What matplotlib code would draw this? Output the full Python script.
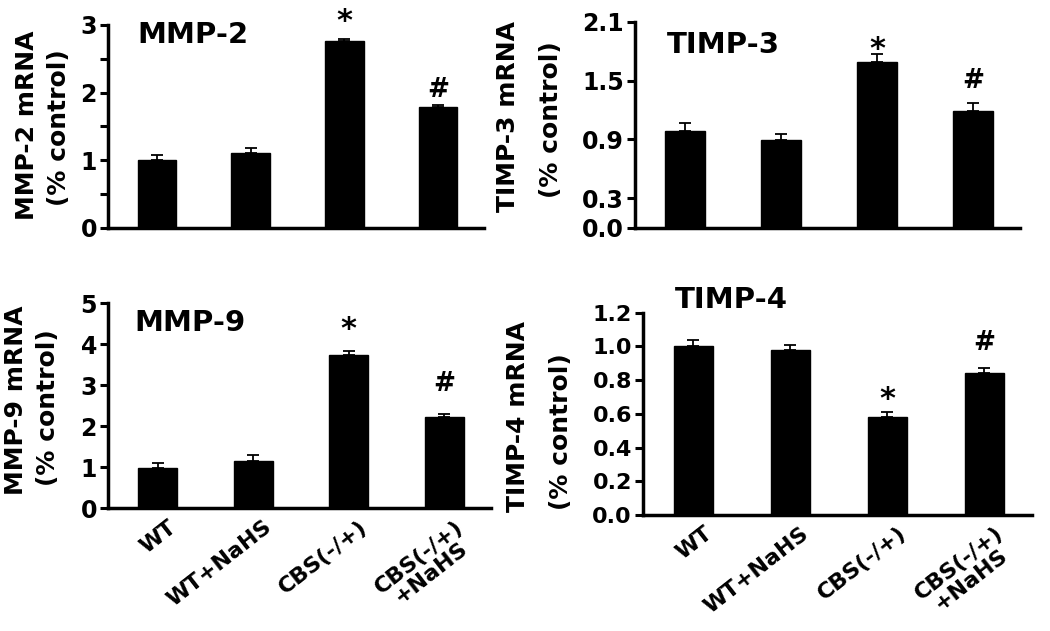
import numpy as np
import matplotlib
matplotlib.use("Agg")
import matplotlib.pyplot as plt
import matplotlib.transforms as mtransforms

plt.rcParams['font.family'] = ['DejaVu Sans']
plt.rcParams['font.weight'] = 'bold'

groups = ['WT', 'WT+NaHS', 'CBS(-/+)', 'CBS(-/+)\n+NaHS']

mmp2 = [1.00, 1.11, 2.76, 1.79]
mmp2_err = [0.08, 0.07, 0.04, 0.03]
timp3 = [0.99, 0.89, 1.69, 1.19]
timp3_err = [0.08, 0.07, 0.08, 0.08]
mmp9 = [0.98, 1.16, 3.74, 2.23]
mmp9_err = [0.13, 0.15, 0.10, 0.06]
timp4 = [1.00, 0.98, 0.58, 0.84]
timp4_err = [0.04, 0.03, 0.03, 0.03]

marks = ['', '', '*', '#']

W, H = 1050, 631
fig = plt.figure(figsize=(W / 100, H / 100), dpi=100)


def px_axes(x0, y0, x1, y1):
    # pixel box (top-left origin) -> figure fraction
    return fig.add_axes([x0 / W, 1 - y1 / H, (x1 - x0) / W, (y1 - y0) / H])


def px_text(x, y, s, **kw):
    fig.text(x / W, 1 - y / H, s, ha='center', va='center', rotation=90,
             fontsize=18, fontweight='bold', **kw)


panels = [
    dict(v=mmp2, e=mmp2_err, box=(108, 25, 484, 228), ylim=3,
         ticks=[0, 1, 2, 3], tl=['0', '1', '2', '3'], minor=[0.5, 1.5, 2.5],
         title='MMP-2', tpos=(0.077, 0.95),
         lab=[(27, 125, 'MMP-2 mRNA'), (59, 128, '(% control)')],
         off={'*': 9, '#': 8}, xl=False, fs=17),
    dict(v=timp3, e=timp3_err, box=(635, 21.7, 1020, 227.7), ylim=2.1,
         ticks=[0, 0.3, 0.9, 1.5, 2.1], tl=['0.0', '0.3', '0.9', '1.5', '2.1'], minor=[],
         title='TIMP-3', tpos=(0.083, 0.887),
         lab=[(508, 117, 'TIMP-3 mRNA'), (551, 120, '(% control)')],
         off={'*': -4, '#': 15}, xl=False, fs=17),
    dict(v=mmp9, e=mmp9_err, box=(108, 303.3, 491, 508.3), ylim=5,
         ticks=[0, 1, 2, 3, 4, 5], tl=['0', '1', '2', '3', '4', '5'], minor=[],
         title='MMP-9', tpos=(0.07, 0.904),
         lab=[(16, 400, 'MMP-9 mRNA'), (48, 408, '(% control)')],
         off={'*': 13, '#': 23}, xl=True, fs=17),
    dict(v=timp4, e=timp4_err, box=(643, 312.7, 1032, 515), ylim=1.2,
         ticks=[0, 0.2, 0.4, 0.6, 0.8, 1.0, 1.2],
         tl=['0.0', '0.2', '0.4', '0.6', '0.8', '1.0', '1.2'], minor=[],
         title='TIMP-4', tpos=(0.082, 1.063),
         lab=[(518, 417, 'TIMP-4 mRNA'), (561, 432, '(% control)')],
         off={'*': 4, '#': 18}, xl=True, fs=16),
]

x = np.arange(len(groups))

for p in panels:
    ax = px_axes(*p['box'])
    ax.bar(x, p['v'], width=0.41, color='black', edgecolor='black', zorder=2)
    lower = np.zeros(len(p['e']))
    ax.errorbar(x, p['v'], yerr=[lower, p['e']], fmt='none', ecolor='black',
                elinewidth=1.3, capsize=4, capthick=1.3, zorder=3)
    ax.set_xlim(-0.52, 3.49)
    ax.set_ylim(0, p['ylim'])
    ax.set_yticks(p['ticks'])
    ax.set_yticklabels(p['tl'], fontsize=p['fs'], fontweight='bold')
    if p['minor']:
        ax.set_yticks(p['minor'], minor=True)
    for s in ['top', 'right']:
        ax.spines[s].set_visible(False)
    for s in ['left', 'bottom']:
        ax.spines[s].set_linewidth(2.5)
    ax.tick_params(axis='y', which='both', direction='out', length=6, width=2.2, pad=2)
    ax.tick_params(axis='x', length=0)
    ax.set_xticks(x)
    if p['xl']:
        ax.set_xticklabels(groups, rotation=38, ha='right', va='top',
                           rotation_mode='anchor', fontsize=16, fontweight='bold',
                           multialignment='center', linespacing=1.0)
        ax.tick_params(axis='x', pad=6)
        shift = mtransforms.ScaledTranslation(10 / 100, 0, fig.dpi_scale_trans)
        for lbl in ax.get_xticklabels():
            lbl.set_transform(lbl.get_transform() + shift)
    else:
        ax.set_xticklabels([])
    ax.text(p['tpos'][0], p['tpos'][1], p['title'], transform=ax.transAxes,
            ha='left', va='center', fontsize=21, fontweight='bold', clip_on=False)
    for i, m in enumerate(marks):
        if not m:
            continue
        ax.annotate(m, (x[i], p['v'][i] + p['e'][i]), xytext=(0, p['off'][m]),
                    textcoords='offset pixels', ha='center', va='baseline',
                    fontsize=22 if m == '*' else 19, fontweight='bold',
                    annotation_clip=False)
    for lx, ly, s in p['lab']:
        px_text(lx, ly, s)

fig.savefig('out.png', dpi=100)
